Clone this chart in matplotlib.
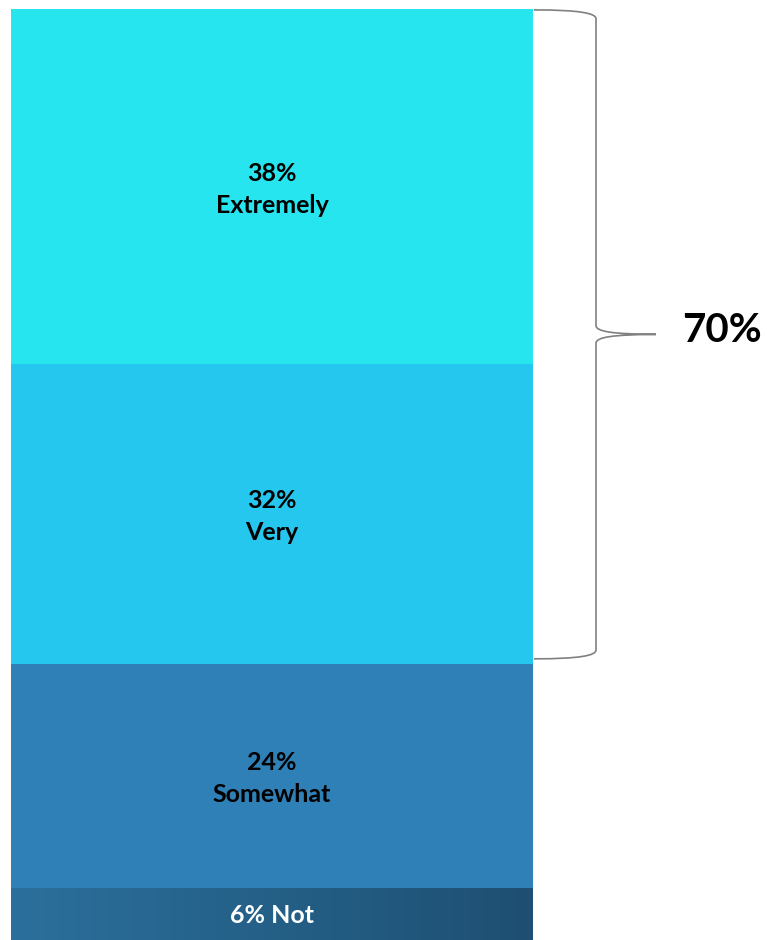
import matplotlib
matplotlib.use("Agg")
import matplotlib.pyplot as plt
import numpy as np
from matplotlib.path import Path
from matplotlib.patches import PathPatch
from matplotlib.colors import LinearSegmentedColormap

# data (bottom to top)
categories = ["Not", "Somewhat", "Very", "Extremely"]
values = [6, 24, 32, 38]
colors = ["#2A6E9A", "#2E80B6", "#26C7EE", "#27E5EE"]
text_colors = ["white", "black", "black", "black"]
brace_total = 70  # Extremely + Very

W, H = 767, 940
fig = plt.figure(figsize=(W / 100, H / 100), dpi=100)
ax = fig.add_axes([0, -4 / 940, 1, 935 / 940])
ax.set_xlim(0, W)
ax.set_ylim(0, 100)
ax.axis("off")

xc, bw = 272, 522
bottoms = np.concatenate([[0], np.cumsum(values)[:-1]])
bars = ax.bar([xc] * len(values), values, bottom=bottoms, width=bw,
              color=colors, linewidth=0)

# gradient on the "Not" segment
grad = np.linspace(0, 1, 256).reshape(1, -1)
cmap = LinearSegmentedColormap.from_list("g", ["#2B709C", "#1E4F72"])
im = ax.imshow(grad, cmap=cmap, aspect="auto",
               extent=[xc - bw / 2, xc + bw / 2, bottoms[0], bottoms[0] + values[0]],
               zorder=2)
im.set_clip_path(bars[0])

fp = dict(family=["Lato", "DejaVu Sans"], fontweight="bold", fontsize=18)
for cat, v, b, tc in zip(categories, values, bottoms, text_colors):
    if v < 10:
        label = f"{v}% {cat}"
        yy = b + v / 2
    else:
        label = f"{v}%\n{cat}"
        yy = b + v / 2 - 0.3
    ax.text(xc, yy, label, ha="center", va="center", color=tc,
            linespacing=1.45, zorder=3, **fp)

# brace
top = sum(values) - 0.1
bot = sum(values) - brace_total + 0.5
mid = (top + bot) / 2
x0, x1, x2 = 534, 596, 656
c = 0.95
verts = [
    (x0, top), (580, top), (x1, top - 0.35), (x1, top - c),
    (x1, mid + c),
    (x1, mid + 0.3), (612, mid + 0.03), (x2, mid),
    (612, mid - 0.03), (x1, mid - 0.3), (x1, mid - c),
    (x1, bot + c),
    (x1, bot + 0.35), (580, bot), (x0, bot),
]
codes = [Path.MOVETO, Path.CURVE4, Path.CURVE4, Path.CURVE4,
         Path.LINETO,
         Path.CURVE4, Path.CURVE4, Path.CURVE4,
         Path.CURVE4, Path.CURVE4, Path.CURVE4,
         Path.LINETO,
         Path.CURVE4, Path.CURVE4, Path.CURVE4]
ax.add_patch(PathPatch(Path(verts, codes), facecolor="none",
                       edgecolor="#808080", linewidth=1.2))
ax.text(722, mid + 0.4, f"{brace_total}%", ha="center", va="center",
        family=["Lato", "DejaVu Sans"], fontweight="bold", fontsize=29,
        color="black")

fig.savefig("out.png", dpi=100)
